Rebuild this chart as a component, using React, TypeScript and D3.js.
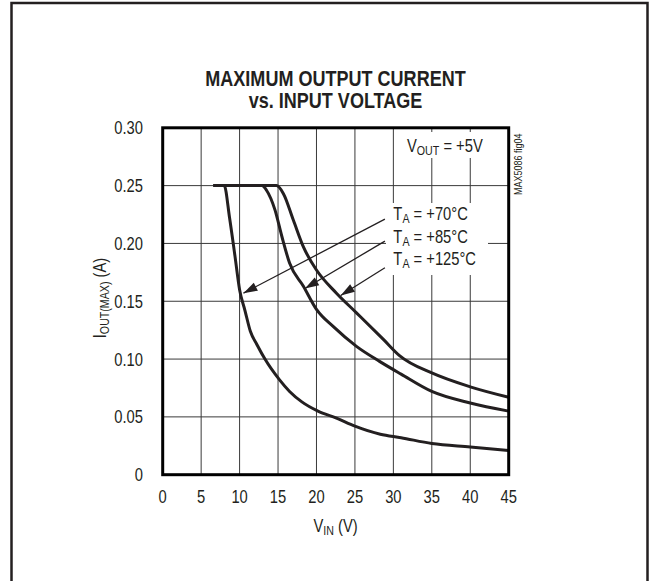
import * as d3 from "d3";
import type { ReactNode } from "react";

const VIN_TICKS = [0, 5, 10, 15, 20, 25, 30, 35, 40, 45];
const IOUT_TICKS = [0, 0.05, 0.1, 0.15, 0.2, 0.25, 0.3];
const IOUT_LABELS = ["0", "0.05", "0.10", "0.15", "0.20", "0.25", "0.30"];

// [VIN (V), IOUT(MAX) (A)]
const T70: [number, number][] = [
  [6.6, 0.25], [8.0, 0.25], [8.7, 0.222], [9.4, 0.189], [10.0, 0.16],
  [10.7, 0.142], [11.4, 0.124], [12.3, 0.112], [13.3, 0.1], [15.2, 0.082],
  [16.5, 0.072], [18.1, 0.063], [20.2, 0.055], [22.6, 0.049], [25, 0.042],
  [28.3, 0.035], [31, 0.032], [35, 0.027], [40, 0.024], [45, 0.021],
];
const T85: [number, number][] = [
  [6.6, 0.25], [12.9, 0.25], [13.5, 0.246], [14.6, 0.229], [15.5, 0.206],
  [16.5, 0.183], [18.3, 0.163], [20.0, 0.143], [22.2, 0.128], [25.2, 0.111],
  [28.2, 0.098], [31, 0.087], [35, 0.072], [40, 0.062], [45, 0.055],
];
const T125: [number, number][] = [
  [6.6, 0.25], [14.8, 0.25], [15.7, 0.243], [17.0, 0.22], [18.3, 0.197],
  [20.0, 0.177], [22.6, 0.157], [25.2, 0.14], [28.7, 0.117], [30.8, 0.103],
  [35, 0.088], [40, 0.076], [45, 0.067],
];

const TEMPS = ["+70°C", "+85°C", "+125°C"];
const LABEL_AT: [number, number][] = [[30, 0.2205], [30, 0.2005], [30, 0.1817]];
const ARROW_FROM: [number, number][] = [[28.9, 0.221], [28.9, 0.202], [28.9, 0.179]];
const ARROW_TO: [number, number][] = [[10.5, 0.157], [18.5, 0.161], [23.15, 0.155]];

const W = 649;
const H = 581;
const FONT = "'Liberation Sans', Arial, sans-serif";
const INK = "#231f20";
const NARROW = 0.82; // Arial Narrow ~ Arial squeezed to 82%

// condensed text: Liberation Sans squeezed horizontally
function NText(props: {
  x: number;
  y: number;
  size: number;
  anchor?: string;
  weight?: string;
  rotate?: number;
  children: ReactNode;
}) {
  const { x, y, size, anchor = "start", weight = "normal", rotate = 0, children } = props;
  return (
    <text
      transform={`translate(${x},${y}) rotate(${rotate}) scale(${NARROW},1)`}
      textAnchor={anchor}
      fontSize={size}
      fontWeight={weight}
      fill={INK}
    >
      {children}
    </text>
  );
}

export default function App() {
  const x = d3.scaleLinear().domain([0, 45]).range([162.7, 508.7]);
  const y = d3.scaleLinear().domain([0, 0.3]).range([474.7, 127.8]);

  const line = d3
    .line<[number, number]>()
    .x((d) => x(d[0]))
    .y((d) => y(d[1]))
    .curve(d3.curveMonotoneX);

  const arrowHead = (from: [number, number], to: [number, number]) => {
    const x1 = x(from[0]), y1 = y(from[1]);
    const x2 = x(to[0]), y2 = y(to[1]);
    const a = Math.atan2(y2 - y1, x2 - x1);
    const len = 14, hw = 4.5;
    const bx = x2 - len * Math.cos(a), by = y2 - len * Math.sin(a);
    const px = -Math.sin(a) * hw, py = Math.cos(a) * hw;
    return `${x2},${y2} ${bx + px},${by + py} ${bx - px},${by - py}`;
  };

  return (
    <svg
      width={W}
      height={H}
      style={{ position: "absolute", left: 0, top: 0, background: "#fff" }}
      fontFamily={FONT}
    >
      {/* outer frame */}
      <path d={`M11.5,${H + 5} V3 H647.5 V${H + 5}`} fill="none" stroke={INK} strokeWidth={2.5} />

      <NText x={335.5} y={86} size={22} weight="bold" anchor="middle">
        MAXIMUM OUTPUT CURRENT
      </NText>
      <NText x={335.5} y={108} size={22} weight="bold" anchor="middle">
        vs. INPUT VOLTAGE
      </NText>

      {/* grid */}
      {VIN_TICKS.slice(1, -1).map((v) => (
        <line key={"gx" + v} x1={x(v)} x2={x(v)} y1={y(0)} y2={y(0.3)} stroke="#3a3a3a" strokeWidth={1} />
      ))}
      {IOUT_TICKS.slice(1, -1).map((v) => (
        <line key={"gy" + v} x1={x(0)} x2={x(45)} y1={y(v)} y2={y(v)} stroke="#3a3a3a" strokeWidth={1} />
      ))}

      {/* label backgrounds */}
      <rect x={404} y={132} width={96} height={26} fill="#fff" />
      <rect x={386} y={203} width={102} height={72} fill="#fff" />

      {/* curves */}
      {[T70, T85, T125].map((s, i) => (
        <path key={"c" + i} d={line(s) ?? ""} fill="none" stroke={INK} strokeWidth={3} strokeLinejoin="round" />
      ))}

      {/* arrows */}
      {ARROW_FROM.map((f, i) => (
        <g key={"a" + i}>
          <line x1={x(f[0])} y1={y(f[1])} x2={x(ARROW_TO[i][0])} y2={y(ARROW_TO[i][1])} stroke={INK} strokeWidth={1.3} />
          <polygon points={arrowHead(f, ARROW_TO[i])} fill={INK} />
        </g>
      ))}

      {/* frame */}
      <rect x={x(0)} y={y(0.3)} width={x(45) - x(0)} height={y(0) - y(0.3)} fill="none" stroke="#000" strokeWidth={3} />

      {/* tick labels */}
      {IOUT_TICKS.map((v, i) => (
        <NText key={"ty" + v} x={143} y={y(v) + 6.5} size={18} anchor="end">
          {IOUT_LABELS[i]}
        </NText>
      ))}
      {VIN_TICKS.map((v) => (
        <NText key={"tx" + v} x={x(v)} y={503} size={18} anchor="middle">
          {v}
        </NText>
      ))}

      {/* axis titles */}
      <NText x={335.5} y={532} size={18} anchor="middle">
        V<tspan fontSize={13} dy={3}>IN</tspan>
        <tspan dy={-3}> (V)</tspan>
      </NText>
      <NText x={106} y={298} size={18} anchor="middle" rotate={-90}>
        I<tspan fontSize={13} dy={3}>OUT(MAX)</tspan>
        <tspan dy={-3}> (A)</tspan>
      </NText>

      {/* annotations */}
      <NText x={407} y={152} size={18}>
        V<tspan fontSize={13} dy={3}>OUT</tspan>
        <tspan dy={-3}> = +5V</tspan>
      </NText>
      {TEMPS.map((t, i) => (
        <NText key={"l" + i} x={x(LABEL_AT[i][0])} y={y(LABEL_AT[i][1])} size={18}>
          T<tspan fontSize={13} dy={3}>A</tspan>
          <tspan dy={-3}>{" = " + t}</tspan>
        </NText>
      ))}
      <NText x={522} y={195} size={11} rotate={-90}>
        MAX5086 fig04
      </NText>
    </svg>
  );
}
